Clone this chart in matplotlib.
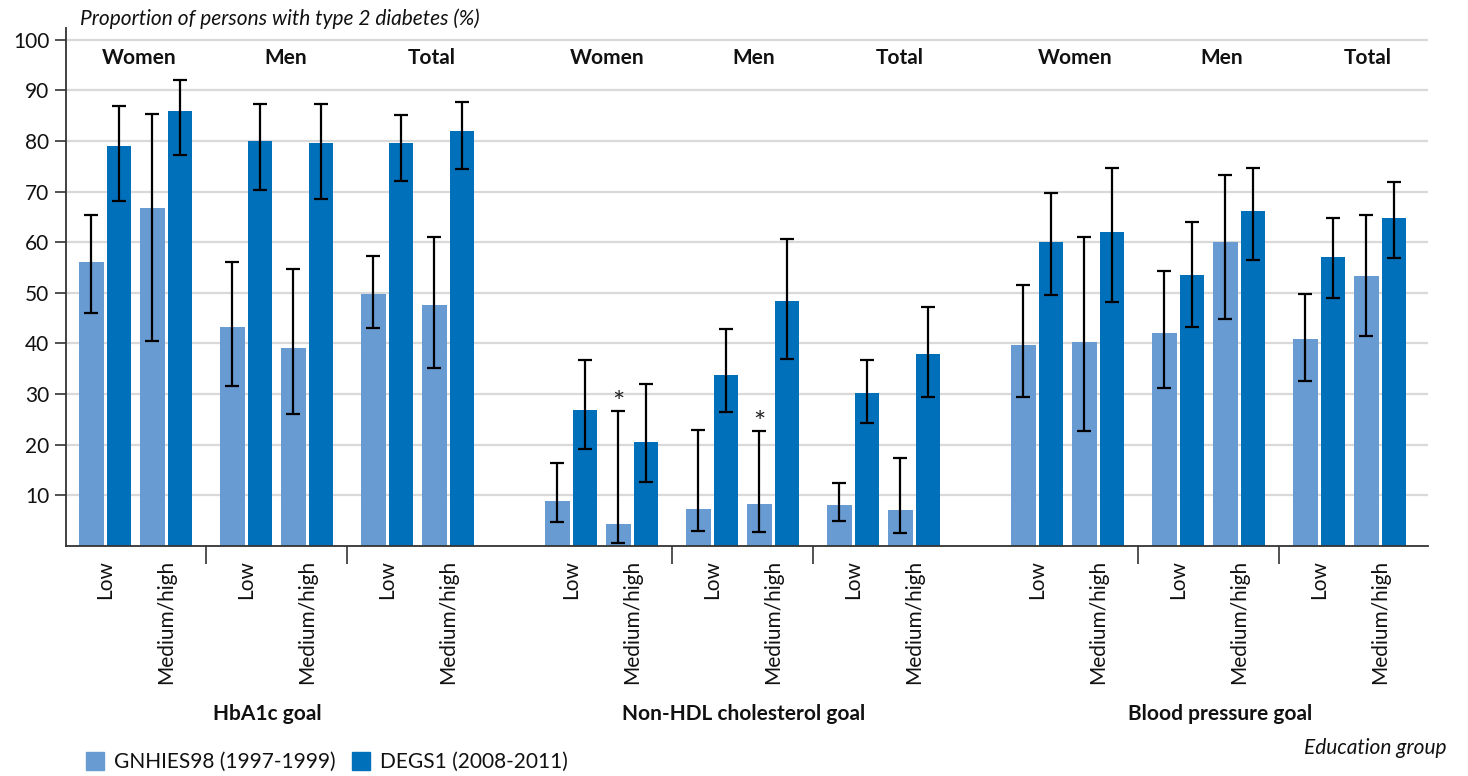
import matplotlib
matplotlib.use("Agg")
import matplotlib.pyplot as plt
from matplotlib.patches import Rectangle
from matplotlib.transforms import blended_transform_factory

plt.rcParams["font.family"] = ["Lato", "DejaVu Sans"]

goals = ["HbA1c goal", "Non-HDL cholesterol goal", "Blood pressure goal"]
sexes = ["Women", "Men", "Total"]
education = ["Low", "Medium/high"]
series = ["GNHIES98 (1997-1999)", "DEGS1 (2008-2011)"]
colors = ["#689BD1", "#0070BA"]

# Values ordered goal -> sex -> education group
gnhies98 = [56.0, 66.7, 43.2, 39.1, 49.7, 47.5,
            8.9, 4.3, 7.3, 8.3, 8.1, 7.1,
            39.6, 40.3, 42.0, 60.0, 40.8, 53.3]
gnhies98_low = [46.1, 40.4, 31.6, 26.0, 43.1, 35.2,
                4.7, 0.6, 3.0, 2.8, 5.0, 2.5,
                29.5, 22.7, 31.2, 44.8, 32.5, 41.4]
gnhies98_high = [65.4, 85.4, 56.0, 54.7, 57.3, 61.1,
                 16.4, 26.6, 23.0, 22.8, 12.4, 17.3,
                 51.5, 61.1, 54.4, 73.3, 49.8, 65.3]

degs1 = [78.9, 86.0, 79.9, 79.5, 79.5, 81.9,
         26.8, 20.5, 33.7, 48.3, 30.2, 37.9,
         60.0, 62.1, 53.6, 66.1, 57.0, 64.7]
degs1_low = [68.2, 77.3, 70.3, 68.5, 72.1, 74.5,
             19.2, 12.6, 26.4, 36.9, 24.3, 29.4,
             49.6, 48.1, 43.3, 56.5, 49.0, 56.9]
degs1_high = [86.8, 92.0, 87.2, 87.2, 85.1, 87.6,
              36.7, 32.0, 42.9, 60.6, 36.7, 47.2,
              69.8, 74.7, 64.0, 74.7, 64.8, 71.9]

# GNHIES98 estimates marked with an asterisk
starred = [7, 9]

# Geometry in axis pixel units
W, H = 1468, 776
AX_L, AX_R, AX_B, AX_T = 66, 1428, 546, 28
X0 = 13.0
BAR_W = 24.5
PAIR = 27.5
EDU = 61.0
SUB = 141.0
GOAL = 466.0
FS = 15

fig = plt.figure(figsize=(W / 100, H / 100), dpi=100)
ax = fig.add_axes([AX_L / W, 1 - AX_B / H, (AX_R - AX_L) / W, (AX_B - AX_T) / H])
ax.set_xlim(0, AX_R - AX_L)
ax.set_ylim(0, 102.3)


def left_edge(g, s, e, k):
    return X0 + g * GOAL + s * SUB + e * EDU + k * PAIR


vals = [gnhies98, degs1]
lows = [gnhies98_low, degs1_low]
highs = [gnhies98_high, degs1_high]

label_pos, label_txt, sep_pos = [], [], []
for g in range(len(goals)):
    for s in range(len(sexes)):
        for e in range(len(education)):
            i = g * 6 + s * 2 + e
            for k in range(2):
                xl = left_edge(g, s, e, k)
                xc = xl + BAR_W / 2
                v = vals[k][i]
                ax.bar(xc, v, width=BAR_W, color=colors[k], zorder=2)
                ax.errorbar(xc, v, yerr=[[v - lows[k][i]], [highs[k][i] - v]],
                            fmt="none", ecolor="black", elinewidth=1.6,
                            capsize=5.2, capthick=1.6, zorder=3)
                if k == 0 and i in starred:
                    ax.text(xc, highs[k][i] - 1.2, "*", ha="center", va="bottom",
                            fontsize=21, color="#222222", zorder=4)
            label_pos.append(left_edge(g, s, e, 0) + (PAIR + BAR_W) / 2)
            label_txt.append(education[e])
        # sex label above the group
        ax.text(73 + g * 468 + s * 146.5, 96.3, sexes[s], ha="center", va="center",
                fontsize=FS, fontweight="bold", color="#111111")
        if s < len(sexes) - 1:
            sep_pos.append((left_edge(g, s, 1, 1) + BAR_W + left_edge(g, s + 1, 0, 0)) / 2)

# y axis
ax.set_yticks(range(10, 101, 10))
ax.yaxis.grid(True, color="#d9d9d9", linewidth=1.6, zorder=0)
ax.set_axisbelow(True)
ax.tick_params(axis="y", direction="out", length=8, width=1.2, colors="#333333",
               labelsize=FS, labelcolor="#111111", pad=4)

# x axis: education labels and group separators
ax.set_xticks(label_pos)
ax.set_xticklabels(label_txt, rotation=90, fontsize=FS, color="#111111")
ax.tick_params(axis="x", which="major", length=0, pad=10)
ax.set_xticks(sep_pos, minor=True)
ax.tick_params(axis="x", which="minor", length=13, width=1.2, color="#333333", direction="out")

for side in ["top", "right"]:
    ax.spines[side].set_visible(False)
for side in ["left", "bottom"]:
    ax.spines[side].set_color("#333333")
    ax.spines[side].set_linewidth(1.3)

# goal titles below the axis
tr = blended_transform_factory(ax.transData, fig.transFigure)
for g, name in enumerate(goals):
    ax.text(201 + g * 476.5, 1 - 714 / H, name, transform=tr, ha="center", va="center",
            fontsize=FS, fontweight="bold", color="#111111")

fig.text(80 / W, 1 - 19 / H, "Proportion of persons with type 2 diabetes (%)",
         ha="left", va="center", fontsize=FS, style="italic", color="#111111")
fig.text(1446 / W, 1 - 748 / H, "Education group", ha="right", va="center",
         fontsize=FS, style="italic", color="#111111")

# legend
for k, (x_sq, name) in enumerate([(86, series[0]), (352, series[1])]):
    fig.add_artist(Rectangle((x_sq / W, 1 - 770 / H), 18 / W, 18 / H,
                             transform=fig.transFigure, color=colors[k]))
    fig.text((x_sq + 28) / W, 1 - 762 / H, name, ha="left", va="center",
             fontsize=FS, color="#111111")

fig.savefig("out.png", dpi=100)
